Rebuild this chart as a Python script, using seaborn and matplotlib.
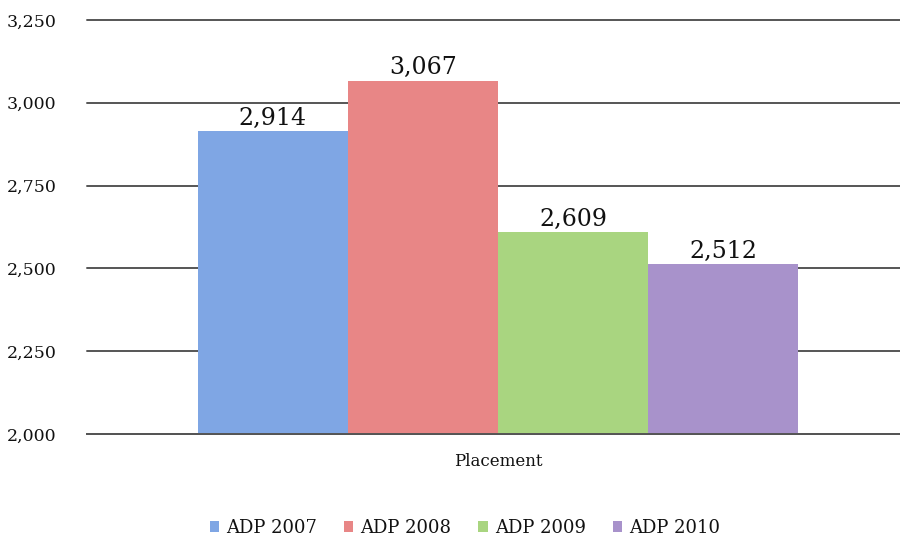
import matplotlib
matplotlib.use("Agg")
import matplotlib.pyplot as plt
import seaborn as sns
import pandas as pd

category = ["Placement"]
series = ["ADP 2007", "ADP 2008", "ADP 2009", "ADP 2010"]
values = [2914, 3067, 2609, 2512]
colors = ["#7FA6E4", "#E88686", "#A9D580", "#A892CB"]
yticks = [2000, 2250, 2500, 2750, 3000, 3250]

df = pd.DataFrame({"category": category * len(series), "series": series, "value": values})

sns.set_theme(style="white")
plt.rcParams["font.family"] = ["DejaVu Serif"]
plt.rcParams["text.color"] = "#111111"
plt.rcParams["xtick.color"] = "#111111"
plt.rcParams["ytick.color"] = "#111111"

fig = plt.figure(figsize=(9, 5.41), dpi=100)
ax = fig.add_axes([87 / 900, 1 - 434 / 541, 822 / 900, 414 / 541])

sns.barplot(data=df, x="category", y="value", hue="series", palette=colors,
            width=0.73, saturation=1, ax=ax, legend=True, edgecolor="none", linewidth=0)

ax.set_ylim(2000, 3250)
ax.set_xlim(-0.5, 0.5)
ax.set_yticks(yticks)
ax.set_yticklabels([f"{v:,}" for v in yticks], fontsize=12.5)
ax.yaxis.grid(True, color="#555555", linewidth=1.4)
for gl in ax.get_ygridlines():
    gl.set_clip_on(False)
ax.set_axisbelow(True)
for s in ["top", "right", "left"]:
    ax.spines[s].set_visible(False)
ax.spines["bottom"].set_color("#555555")
ax.spines["bottom"].set_linewidth(1.4)
ax.tick_params(axis="y", length=0, pad=22)
ax.tick_params(axis="x", length=0, pad=14)
ax.set_xticks([0])
ax.set_xticklabels(category, fontsize=12)
ax.set_xlabel("")
ax.set_ylabel("")

for cont in ax.containers:
    ax.bar_label(cont, labels=[f"{v:,.0f}" for v in cont.datavalues], fontsize=17,
                 padding=1, color="#111111")

handles, labels = ax.get_legend_handles_labels()
ax.legend(handles, labels, loc="center", bbox_to_anchor=(465 / 900, 1 - 528 / 541),
          bbox_transform=fig.transFigure, ncol=4, frameon=False, fontsize=13,
          handlelength=0.5, handleheight=0.5, handletextpad=0.4, columnspacing=1.5)

fig.savefig("out.png", dpi=100)
